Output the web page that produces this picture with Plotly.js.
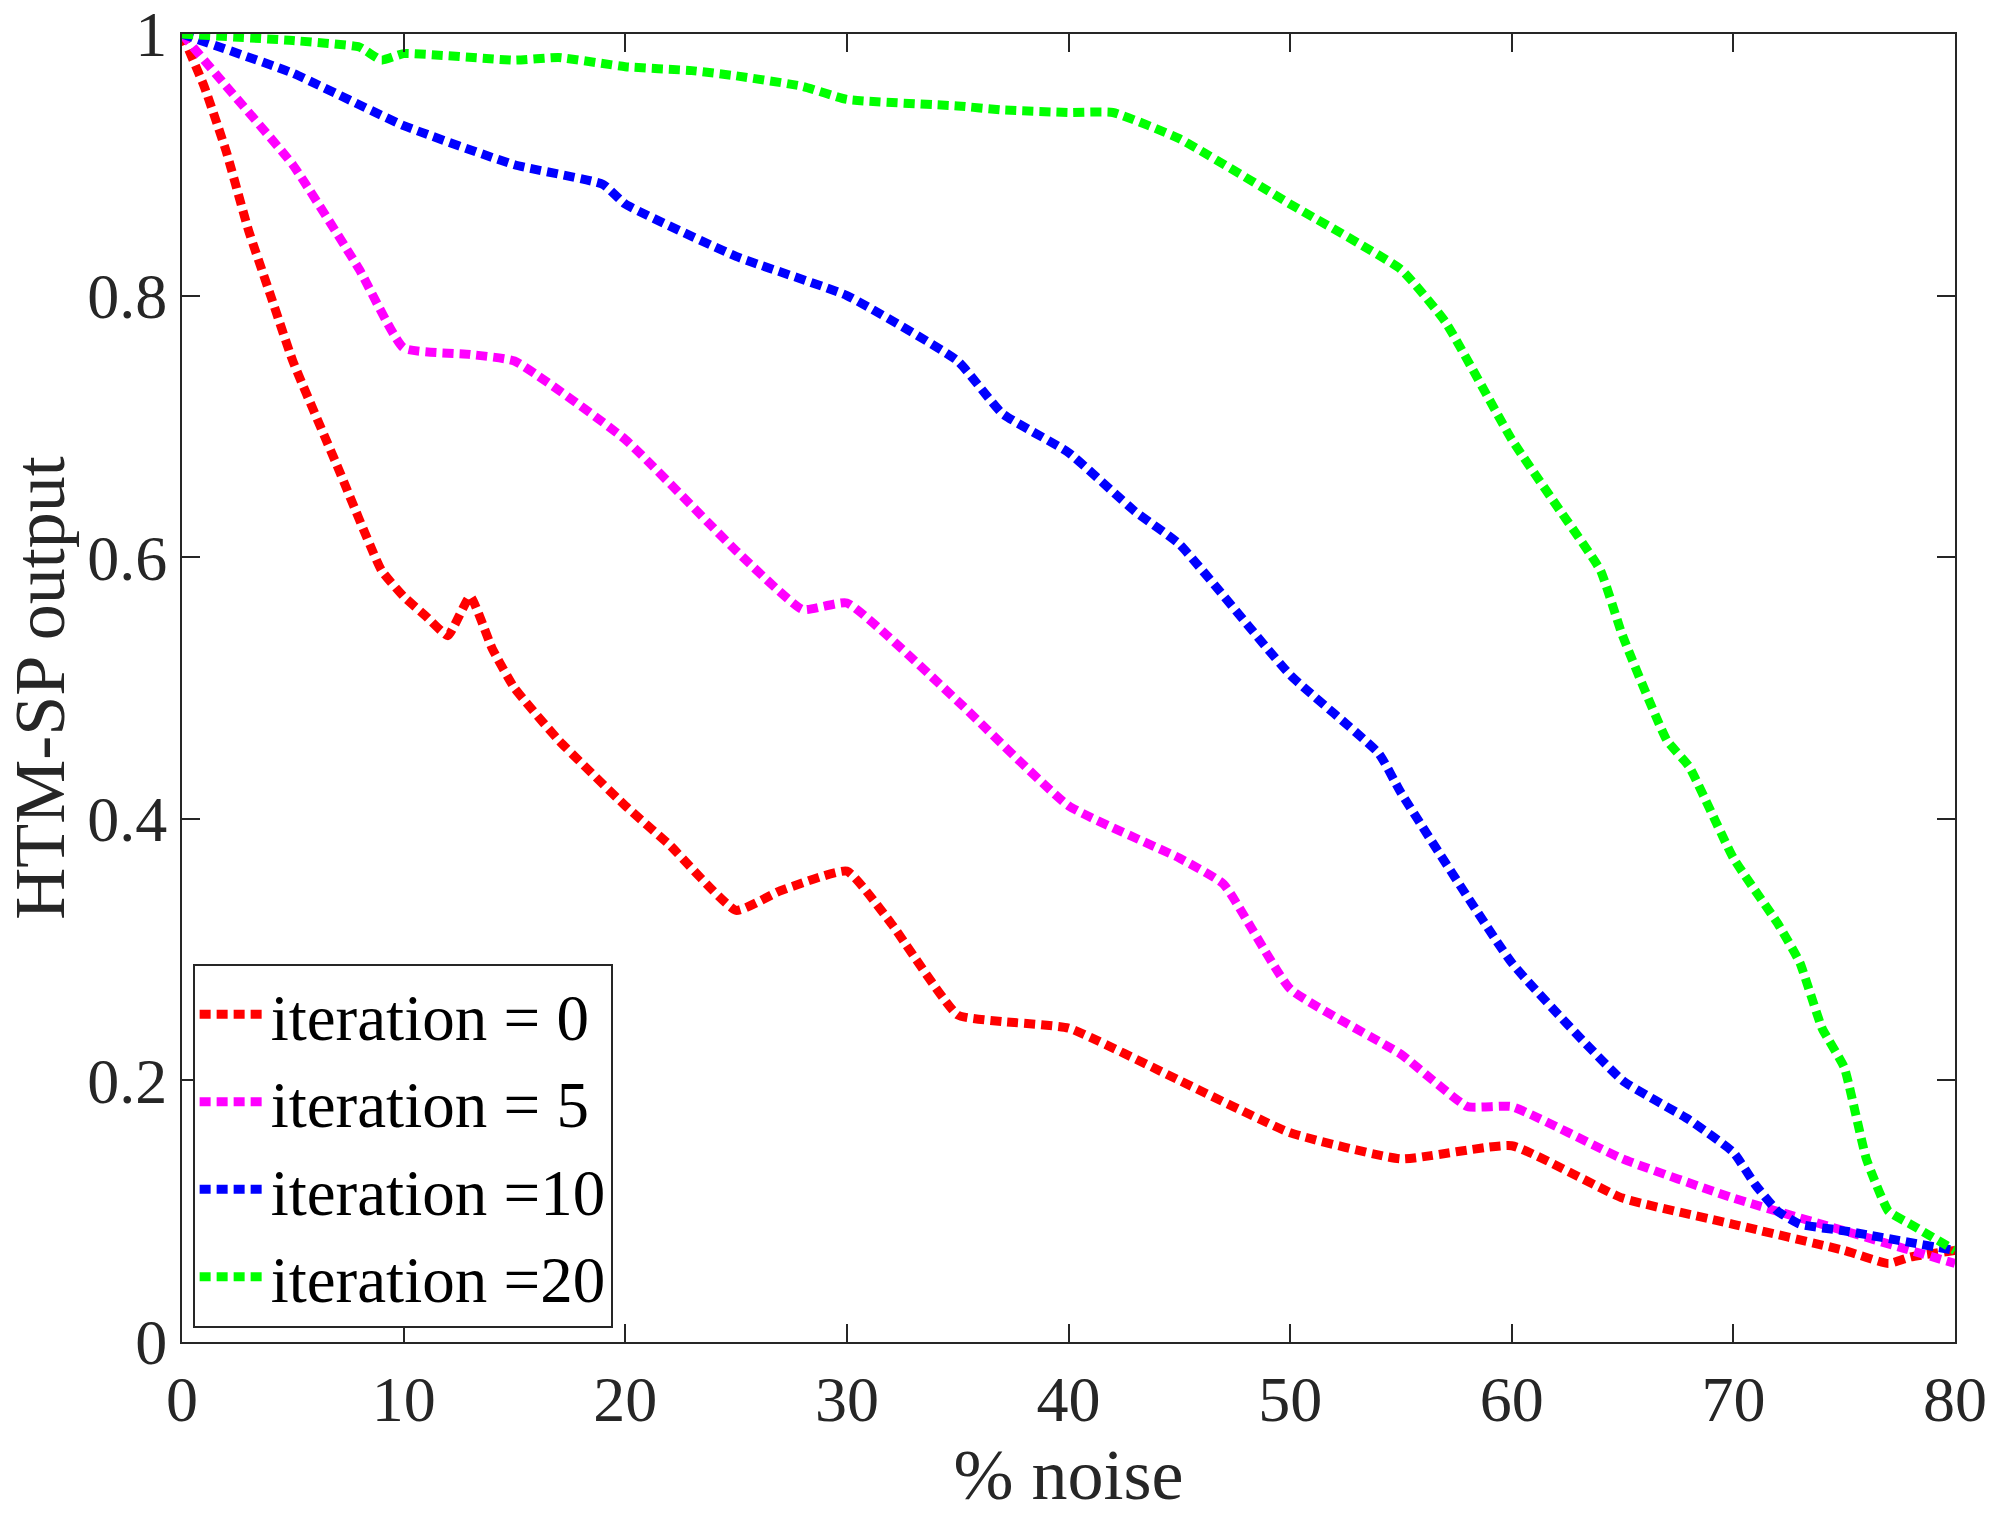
<!DOCTYPE html>
<html>
<head>
<meta charset="utf-8">
<script src="https://cdn.plot.ly/plotly-3.0.1.min.js"></script>
<style>
  html, body { margin: 0; padding: 0; background: #fff; }
  #chart { width: 1995px; height: 1521px; }
</style>
</head>
<body>
<div id="chart"></div>
<script>
// HTM-SP output vs % noise

// iteration = 0
const noise0 = [0, 1, 2, 3, 4, 5, 7, 9, 10, 11, 12, 13, 14, 15, 17, 20, 22, 25, 27, 30, 32, 35, 37, 40, 45, 50, 55, 60, 65, 70, 75, 77, 78, 80];
const out0   = [1.0, 0.96, 0.91, 0.85, 0.80, 0.75, 0.67, 0.59, 0.57, 0.555, 0.54, 0.57, 0.53, 0.50, 0.46, 0.41, 0.38, 0.33, 0.345, 0.36, 0.32, 0.25, 0.245, 0.24, 0.20, 0.16, 0.14, 0.15, 0.11, 0.09, 0.07, 0.06, 0.065, 0.07];

// iteration = 5
const noise5 = [0, 2, 5, 8, 10, 13, 15, 20, 25, 28, 30, 35, 40, 45, 47, 50, 55, 58, 60, 65, 70, 75, 80];
const out5   = [1.0, 0.96, 0.90, 0.82, 0.76, 0.755, 0.75, 0.69, 0.605, 0.56, 0.565, 0.49, 0.41, 0.37, 0.35, 0.27, 0.22, 0.18, 0.18, 0.14, 0.11, 0.085, 0.06];

// iteration = 10
const noise10 = [0, 5, 10, 15, 19, 20, 25, 30, 35, 37, 40, 43, 45, 50, 54, 55, 60, 65, 68, 70, 71, 72, 73, 75, 80];
const out10   = [1.0, 0.97, 0.93, 0.90, 0.885, 0.87, 0.83, 0.80, 0.75, 0.71, 0.68, 0.635, 0.61, 0.51, 0.45, 0.42, 0.29, 0.20, 0.17, 0.145, 0.12, 0.10, 0.09, 0.085, 0.07];

// iteration = 20
const noise20 = [0, 5, 8, 9, 10, 15, 17, 20, 23, 25, 28, 30, 35, 37, 40, 42, 45, 50, 55, 57, 60, 62, 64, 65, 67, 68, 70, 72, 73, 74, 75, 76, 77, 78, 80];
const out20   = [1.0, 0.995, 0.99, 0.98, 0.985, 0.98, 0.982, 0.975, 0.972, 0.968, 0.96, 0.95, 0.945, 0.942, 0.94, 0.94, 0.92, 0.87, 0.82, 0.78, 0.69, 0.64, 0.59, 0.54, 0.46, 0.44, 0.37, 0.32, 0.29, 0.24, 0.21, 0.14, 0.10, 0.09, 0.07];

const seriesNames = ['iteration = 0', 'iteration = 5', 'iteration =10', 'iteration =20'];
const seriesColors = ['#ff0000', '#ff00ff', '#0000ff', '#00ff00'];
const xTicks = [0, 10, 20, 30, 40, 50, 60, 70, 80];
const yTicks = [0, 0.2, 0.4, 0.6, 0.8, 1];
const yTickText = ['0', '0.2', '0.4', '0.6', '0.8', '1'];

const FONT = "'Liberation Serif', 'Times New Roman', serif";
const AXIS_COLOR = '#262626';

const xs = [noise0, noise5, noise10, noise20];
const ys = [out0, out5, out10, out20];

const data = xs.map((x, i) => ({
    x: x,
    y: ys[i],
    name: seriesNames[i],
    type: 'scatter',
    mode: 'lines',
    line: {
        color: seriesColors[i],
        width: 9,
        dash: '11px,6px',
        shape: 'spline',
        smoothing: 0.4
    }
}));

const axisCommon = {
    showgrid: false,
    zeroline: false,
    showline: true,
    linecolor: AXIS_COLOR,
    linewidth: 2,
    mirror: 'ticks',
    ticks: 'inside',
    ticklen: 18,
    tickwidth: 2,
    tickcolor: AXIS_COLOR,
    ticklabeloverflow: 'allow',
    tickfont: { family: FONT, size: 64, color: '#262626' }
};

const layout = {
    width: 1995,
    height: 1521,
    margin: { t: 34, r: 40, b: 179, l: 182 },
    paper_bgcolor: '#ffffff',
    plot_bgcolor: '#ffffff',
    font: { family: FONT, color: '#262626' },
    showlegend: true,
    legend: {
        x: 0.006,
        y: 0.011,
        xanchor: 'left',
        yanchor: 'bottom',
        bgcolor: '#ffffff',
        bordercolor: AXIS_COLOR,
        borderwidth: 2,
        itemwidth: 66,
        font: { family: FONT, size: 65, color: '#000000' },
        tracegroupgap: 0
    },
    xaxis: {
        ...axisCommon,
        range: [0, 80],
        tickvals: xTicks,
        ticktext: xTicks.map(String),
        title: { text: '% noise', font: { family: FONT, size: 72, color: '#262626' }, standoff: 8 }
    },
    yaxis: {
        ...axisCommon,
        range: [0, 1],
        tickvals: yTicks,
        ticktext: yTickText,
        title: { text: 'HTM-SP output', font: { family: FONT, size: 72, color: '#262626' }, standoff: 10 }
    }
};

Plotly.newPlot('chart', data, layout, { displayModeBar: false, responsive: false });
</script>
</body>
</html>
